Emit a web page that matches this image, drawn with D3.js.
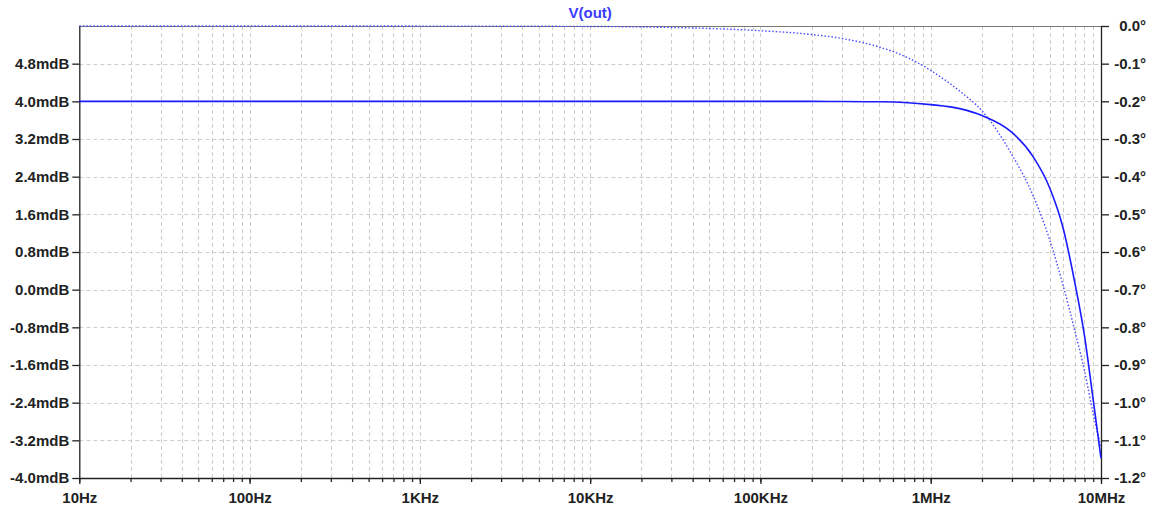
<!DOCTYPE html>
<html>
<head>
<meta charset="utf-8">
<script src="https://cdn.jsdelivr.net/npm/d3@7/dist/d3.min.js"></script>
<style>
  html, body { margin: 0; padding: 0; background: #ffffff; }
  svg { display: block; }
  .tick text { font-family: "Liberation Sans", Arial, sans-serif; font-weight: bold; font-size: 15px; fill: #222; }
</style>
</head>
<body>
<svg id="chart" width="1157" height="510"></svg>
<script>
// Frequency sweep points (Hz)
const freqHz = [10, 100, 1e3, 1e4, 2e4, 5e4, 1e5, 2e5, 3e5, 5e5, 7e5, 1e6, 1.5e6, 2e6, 3e6, 4e6, 5e6, 6e6, 7e6, 8e6, 9e6, 1e7];
// Magnitude of V(out), in mdB
const magMdB = [4.0, 4.0, 4.0, 4.0, 4.0, 4.0, 4.0, 4.0, 3.995, 3.99, 3.975, 3.93, 3.84, 3.70, 3.34, 2.82, 2.16, 1.30, 0.17, -0.98, -2.34, -3.58];
// Phase of V(out), in degrees
const phaseDeg = [0, 0, -0.0002, -0.0012, -0.0025, -0.0065, -0.0125, -0.0226, -0.033, -0.056, -0.080, -0.118, -0.175, -0.225, -0.342, -0.451, -0.568, -0.69, -0.807, -0.915, -1.03, -1.118];

// Axis ticks
const magTicks = [-4.0, -3.2, -2.4, -1.6, -0.8, 0.0, 0.8, 1.6, 2.4, 3.2, 4.0, 4.8];
const phaseTicks = [0.0, -0.1, -0.2, -0.3, -0.4, -0.5, -0.6, -0.7, -0.8, -0.9, -1.0, -1.1, -1.2];
const decadeTicks = [10, 100, 1e3, 1e4, 1e5, 1e6, 1e7];
const decadeLabels = ["10Hz", "100Hz", "1KHz", "10KHz", "100KHz", "1MHz", "10MHz"];
const title = "V(out)";

const svg = d3.select("#chart");
const plotL = 79.3, plotR = 1101, plotT = 26, plotB = 478;

const x = d3.scaleLog().domain([10, 1e7]).range([plotL, plotR]);
const yMag = d3.scaleLinear().domain([-4.0, 5.6]).range([plotB, plotT]);
const yPh = d3.scaleLinear().domain([-1.2, 0]).range([plotB, plotT]);

// Minor frequency grid: 1..9 per decade
const minorFreqs = [];
for (let d = 10; d < 1e7; d *= 10) for (let m = 1; m <= 9; m++) minorFreqs.push(d * m);
minorFreqs.push(1e7);

const grid = svg.append("g").attr("stroke", "#cdcdcd").attr("stroke-width", 1).attr("stroke-dasharray", "4,3");
grid.selectAll("line.v").data(minorFreqs.filter(f => f > 10 && f < 1e7)).join("line")
  .attr("x1", d => Math.round(x(d)) + 0.5).attr("x2", d => Math.round(x(d)) + 0.5)
  .attr("y1", plotT).attr("y2", plotB);
grid.selectAll("line.h").data(magTicks.filter(v => v > -4)).join("line")
  .attr("x1", plotL).attr("x2", plotR)
  .attr("y1", d => Math.round(yMag(d)) + 0.5).attr("y2", d => Math.round(yMag(d)) + 0.5);

// Top border of the plot
svg.append("line").attr("x1", plotL).attr("x2", plotR).attr("y1", plotT + 0.5).attr("y2", plotT + 0.5)
  .attr("stroke", "#777").attr("stroke-width", 1.2);

// Axes
const fmtMag = v => v.toFixed(1) + "mdB";
const fmtPh = v => (Math.abs(v) < 1e-9 ? "0.0" : v.toFixed(1)) + "°";

const gL = svg.append("g").attr("transform", `translate(${plotL},0)`)
  .call(d3.axisLeft(yMag).tickValues(magTicks).tickFormat(fmtMag).tickSize(7).tickPadding(3).tickSizeOuter(0));
const gR = svg.append("g").attr("transform", `translate(${plotR},0)`)
  .call(d3.axisRight(yPh).tickValues(phaseTicks).tickFormat(fmtPh).tickSize(8).tickSizeOuter(0));
gR.selectAll(".tick text").attr("text-anchor", "end").attr("x", 45);

const gB = svg.append("g").attr("transform", `translate(0,${plotB})`)
  .call(d3.axisBottom(x).tickValues(minorFreqs).tickFormat(() => "").tickSize(4).tickSizeOuter(0));
const gB2 = svg.append("g").attr("transform", `translate(0,${plotB})`)
  .call(d3.axisBottom(x).tickValues(decadeTicks).tickFormat((d, i) => decadeLabels[i]).tickSize(6).tickPadding(5).tickSizeOuter(0));
gB2.select(".domain").remove();

[gL, gR, gB, gB2].forEach(g => {
  g.select(".domain").attr("stroke", "#222").attr("stroke-width", 1.3);
  g.selectAll(".tick line").attr("stroke", "#222").attr("stroke-width", 1.3);
});
gB2.selectAll(".tick text").attr("dy", "0.95em");
gL.select(".domain").attr("d", `M0.5,${plotT}V${plotB}`);
gR.select(".domain").attr("d", `M0.5,${plotT}V${plotB}`);

// Traces
const pts = freqHz.map((f, i) => ({ f, m: magMdB[i], p: phaseDeg[i] }));
const magLine = d3.line().x(d => x(d.f)).y(d => yMag(d.m)).curve(d3.curveMonotoneX);
const phLine = d3.line().x(d => x(d.f)).y(d => yPh(d.p)).curve(d3.curveMonotoneX);

svg.append("path").datum(pts).attr("d", phLine)
  .attr("fill", "none").attr("stroke", "#4a4aff").attr("stroke-width", 1.4).attr("stroke-dasharray", "1.5,2");
svg.append("path").datum(pts).attr("d", magLine)
  .attr("fill", "none").attr("stroke", "#1a1aff").attr("stroke-width", 1.6);

// Title
svg.append("text").attr("x", (plotL + plotR) / 2).attr("y", 18).attr("text-anchor", "middle")
  .attr("font-family", "'Liberation Sans', Arial, sans-serif").attr("font-weight", "bold").attr("font-size", 15)
  .attr("fill", "#3b3bff").text(title);
</script>
</body>
</html>
